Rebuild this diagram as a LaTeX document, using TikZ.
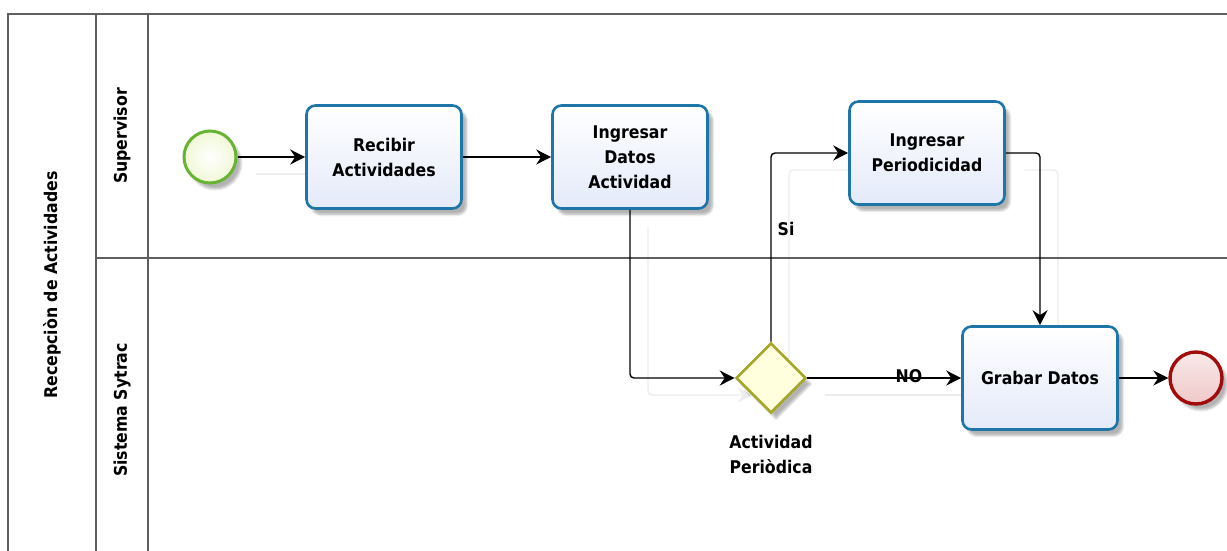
\documentclass[tikz,border=0pt]{standalone}
\usepackage{fontspec}
\setmainfont{DejaVu Sans Condensed}
\usetikzlibrary{shapes.geometric,arrows.meta,shadows,shadows.blur}

\definecolor{taskblue}{RGB}{30,118,168}
\definecolor{taskfill}{RGB}{228,234,250}
\definecolor{startgreen}{RGB}{104,178,52}
\definecolor{startfill}{RGB}{240,248,214}
\definecolor{endred}{RGB}{160,12,12}
\definecolor{endfill}{RGB}{240,200,200}
\definecolor{gwolive}{RGB}{166,166,40}
\definecolor{gwfill}{RGB}{255,255,222}
\definecolor{poolline}{RGB}{95,95,95}

\pgfdeclarelayer{background}
\pgfsetlayers{background,main}

\tikzset{
  txt/.style={font=\bfseries\fontsize{17.5}{25}\selectfont, align=center},
  softshadow/.style={blur shadow={shadow xshift=5pt, shadow yshift=-6pt, shadow blur steps=6, shadow opacity=30}},
  task/.style={txt, draw=taskblue, line width=2.6pt, rounded corners=9pt,
    minimum width=155pt, minimum height=103pt, inner sep=2pt,
    top color=white, bottom color=taskfill, softshadow},
  startev/.style={circle, draw=startgreen, line width=3pt, minimum size=52pt, inner sep=0pt,
    inner color=white, outer color=startfill, softshadow},
  endev/.style={circle, draw=endred, line width=3.4pt, minimum size=52pt, inner sep=0pt,
    top color=white!60!endfill, bottom color=endfill, softshadow},
  gateway/.style={diamond, aspect=1, draw=gwolive, line width=2.6pt, minimum size=70pt, inner sep=0pt,
    fill=gwfill, softshadow},
  flow/.style={draw=black, line width=1.4pt, rounded corners=4pt,
    -{Stealth[length=15pt,width=15pt,inset=5pt]}},
  flowshadow/.style={flow, draw=black!7},
  lanetxt/.style={txt, rotate=90},
  poolrule/.style={draw=poolline, line width=1.4pt},
  lbl/.style={txt, inner sep=1pt}
}

\begin{document}
\begin{tikzpicture}[x=1pt,y=-1pt]
  \useasboundingbox (0,0) rectangle (1227,551);
  \clip (0,0) rectangle (1227,551);

  % pool and lanes
  \draw[poolrule] (8,570) -- (8,14) -- (1240,14);
  \draw[poolrule] (96,14) -- (96,570);
  \draw[poolrule] (148,14) -- (148,570);
  \draw[poolrule] (96,258) -- (1240,258);

  \node[lanetxt] (pool) at (52,285) {Recepciòn de Actividades};
  \node[lanetxt] (lane1) at (122,136) {Supervisor};
  \node[lanetxt] (lane2) at (122,410) {Sistema Sytrac};

  % flow objects
  \node[startev] (start) at (210,157) {};
  \node[task] (recibir) at (384,157) {Recibir\\Actividades};
  \node[task] (ingdatos) at (630,157) {Ingresar\\Datos\\Actividad};
  \node[task] (ingper) at (927,153) {Ingresar\\Periodicidad};
  \node[gateway] (gw) at (771,378) {};
  \node[task] (grabar) at (1040,378) {Grabar Datos};
  \node[endev] (end) at (1196,378) {};

  \node[txt, anchor=north] (gwlabel) at (771,432) {Actividad\\Periòdica};

  % faint shadows of the sequence flows, kept behind everything
  \begin{pgfonlayer}{background}
    \begin{scope}[transform canvas={xshift=18pt,yshift=-17pt}]
      \draw[flowshadow] (start) -- (recibir);
      \draw[flowshadow] (ingdatos.south) |- (gw.west);
      \draw[flowshadow] (gw.north) |- (ingper.west);
      \draw[flowshadow] (ingper.east) -| (grabar.north);
      \draw[flowshadow] (gw.east) -- (grabar.west);
    \end{scope}
  \end{pgfonlayer}

  % sequence flows
  \draw[flow] (start) -- (recibir);
  \draw[flow] (recibir) -- (ingdatos);
  \draw[flow] (ingdatos.south) |- (gw.west);
  \draw[flow] (gw.north) |- node[lbl, pos=0.3, right=5pt] (si) {Si} (ingper.west);
  \draw[flow] (ingper.east) -| (grabar.north);
  \draw[flow] (gw.east) -- node[lbl, pos=0.66, above=-6pt] (no) {NO} (grabar.west);
  \draw[flow] (grabar) -- (end);
\end{tikzpicture}
\end{document}
